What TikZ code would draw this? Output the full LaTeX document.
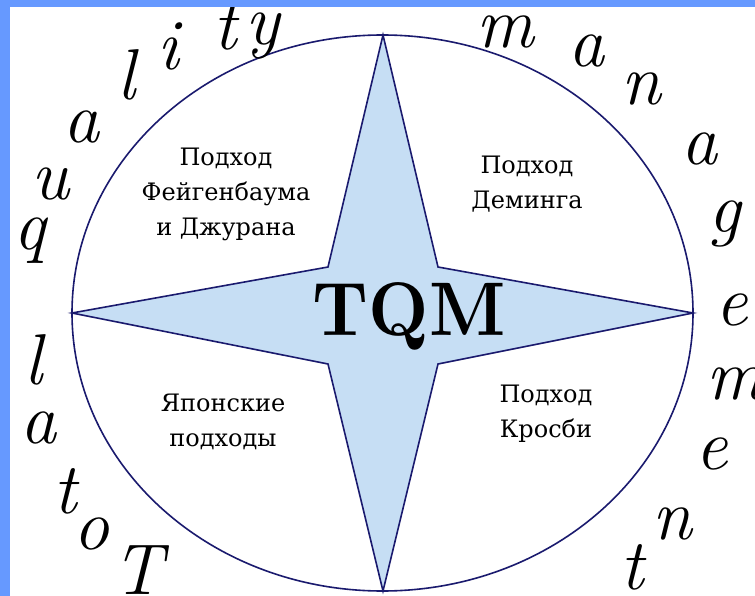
\documentclass[tikz,border=0pt]{standalone}
\usepackage{fontspec}
\newfontfamily\labfont{DejaVu Serif}
\newfontfamily\titlefont{lmroman10-bold.otf}
\definecolor{framebg}{RGB}{102,153,255}
\definecolor{starfill}{RGB}{198,222,244}
\definecolor{inkline}{RGB}{26,26,110}
\begin{document}
\begin{tikzpicture}[x=1pt,y=-1pt,
  arcletter/.style={font=\itshape\fontsize{72}{80}\selectfont, anchor=base, inner sep=0pt},
  quadlabel/.style={font=\labfont\fontsize{24}{35}\selectfont, anchor=base, inner sep=0pt},
  bigtitle/.style={font=\titlefont\fontsize{76}{90}\selectfont, anchor=base, inner sep=0pt},
  outline/.style={draw=inkline, line width=1.6pt}]
\useasboundingbox (0,0) rectangle (755,596);
\fill[white] (0,0) rectangle (755,596);
% circle
\draw[outline, fill=white] (382.5,313) ellipse [x radius=310.5pt, y radius=278pt];
% star
\coordinate (sT) at (383,35);
\coordinate (sUR) at (438,267);
\coordinate (sR) at (693,313);
\coordinate (sLR) at (438,364);
\coordinate (sB) at (383,591);
\coordinate (sLL) at (328,364);
\coordinate (sL) at (72,313);
\coordinate (sUL) at (328,267);
\draw[outline, fill=starfill] (sT) -- (sUR) -- (sR) -- (sLR) -- (sB) -- (sLL) -- (sL) -- (sUL) -- cycle;
% title
\node[bigtitle] (tqm) at (409,335) {\scalebox{0.92}[1]{TQM}};
% quadrant labels
\node[quadlabel] (feig) at (226,166) {\begin{tabular}[t]{@{}c@{}}Подход\\Фейгенбаума\\и Джурана\end{tabular}};
\node[quadlabel] (deming) at (527,174) {\begin{tabular}[t]{@{}c@{}}Подход\\Деминга\end{tabular}};
\node[quadlabel] (japan) at (223,411) {\begin{tabular}[t]{@{}c@{}}Японские\\подходы\end{tabular}};
\node[quadlabel] (crosby) at (546,402) {\begin{tabular}[t]{@{}c@{}}Подход\\Кросби\end{tabular}};
% Total quality management letters
\node[arcletter] (c1) at (138,594) {T};
\node[arcletter] (c2) at (91,549) {o};
\node[arcletter] (c3) at (65,513) {t};
\node[arcletter] (c4) at (38,443) {a};
\node[arcletter] (c5) at (33,384) {l};
\node[arcletter] (c6) at (30,250) {q};
\node[arcletter] (c7) at (50,200) {u};
\node[arcletter] (c8) at (81,143) {a};
\node[arcletter] (c9) at (126,100) {l};
\node[arcletter] (c10) at (168,70) {i};
\node[arcletter] (c11) at (225,50) {t};
\node[arcletter] (c12) at (263,45) {y};
\node[arcletter] (c13) at (505,48) {m};
\node[arcletter] (c14) at (586,67) {a};
\node[arcletter] (c15) at (641,105) {n};
\node[arcletter] (c16) at (699,165) {a};
\node[arcletter] (c17) at (725,233) {g};
\node[arcletter] (c18) at (732,325) {e};
\node[arcletter] (c19) at (735,399) {m};
\node[arcletter] (c20) at (712,469) {e};
\node[arcletter] (c21) at (672,539) {n};
\node[arcletter] (c22) at (632,589) {t};
% frame
\fill[framebg] (0,0) rectangle (755,7);
\fill[framebg] (0,0) rectangle (10,596);
\end{tikzpicture}
\end{document}
